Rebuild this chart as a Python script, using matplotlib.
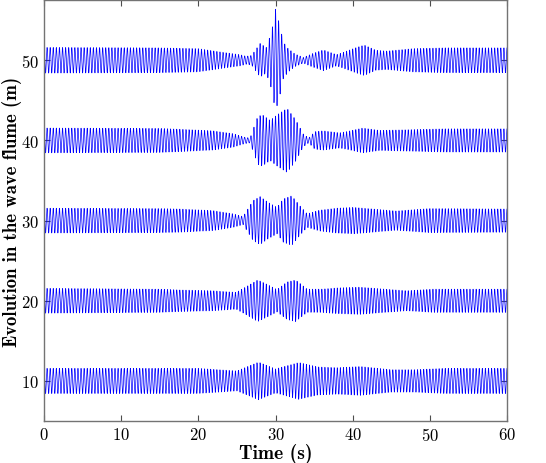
import numpy as np
import matplotlib
matplotlib.use("Agg")
import matplotlib.pyplot as plt

# gauge offsets along the flume (m)
offsets = [50, 40, 30, 20, 10]

# carrier wave period (s) and focus time (s)
period = 0.4
t_focus = 30.0

# envelope knots (time s, half-height m)
env_t_50 = [0, 15, 20, 22.8, 25.4, 26.2, 26.9, 28.0, 28.8, 29.5, 30.0, 30.6, 31.0, 31.6, 32.5,
            33.6, 34.7, 36.2, 37.9, 38.8, 40.5, 41.5, 43.0, 44.4, 47.8, 52.0, 60]
env_a_50 = [1.6, 1.55, 1.45, 1.05, 0.7, 0.5, 0.6, 2.1, 1.6, 3.6, 6.4, 4.2, 2.3, 1.5, 0.8,
            0.35, 0.8, 1.3, 0.7, 1.0, 1.6, 1.9, 1.25, 1.15, 1.45, 1.55, 1.55]

env_t_40 = [0, 15, 17.6, 21.9, 24.5, 26.0, 26.7, 27.7, 28.3, 29.3, 30.2, 31.5, 32.6, 33.6,
            34.3, 35.1, 36.2, 38.3, 39.2, 41.3, 43.5, 47.8, 52.0, 60]
env_a_40 = [1.55, 1.5, 1.4, 1.2, 0.85, 0.4, 0.3, 3.0, 3.2, 2.5, 3.2, 4.0, 2.6, 0.8,
            0.3, 1.1, 1.2, 0.95, 1.1, 1.55, 1.25, 1.35, 1.45, 1.45]

env_t_30 = [0, 15, 17.6, 21.9, 24.5, 25.8, 27.1, 28.0, 29.0, 30.2, 31.0, 32.1, 33.2, 34.1,
            35.7, 37.9, 40.1, 42.6, 45.6, 49.9, 60]
env_a_30 = [1.55, 1.5, 1.45, 1.25, 0.85, 0.5, 2.5, 3.0, 2.3, 1.65, 2.7, 3.1, 1.8, 0.85,
            1.3, 1.55, 1.65, 1.45, 1.2, 1.5, 1.45]

env_t_20 = [0, 15, 17.6, 21.9, 24.9, 26.2, 27.7, 29.0, 30.2, 31.5, 32.6, 34.1, 35.9, 37.9,
            40.9, 43.5, 47.0, 50.4, 60]
env_a_20 = [1.55, 1.45, 1.35, 1.25, 1.05, 1.75, 2.6, 2.0, 1.4, 2.35, 2.6, 1.45, 1.45, 1.6,
            1.7, 1.5, 1.25, 1.45, 1.45]

env_t_10 = [0, 20, 25.0, 27.8, 30.0, 33.0, 35.5, 38.0, 41.0, 45.0, 48.0, 52.0, 60]
env_a_10 = [1.57, 1.57, 1.25, 2.35, 1.5, 2.3, 1.75, 1.65, 1.8, 1.4, 1.4, 1.57, 1.57]

envelopes = [(env_t_50, env_a_50), (env_t_40, env_a_40), (env_t_30, env_a_30),
             (env_t_20, env_a_20), (env_t_10, env_a_10)]

plt.rcParams["font.family"] = "serif"
plt.rcParams["font.serif"] = ["cmr10", "DejaVu Serif"]
plt.rcParams["mathtext.fontset"] = "cm"
plt.rcParams["axes.formatter.use_mathtext"] = True

fig = plt.figure(figsize=(5.46, 4.64), dpi=100)
ax = fig.add_axes([0.0806, 0.0905, 0.848, 0.907])

t = np.linspace(0, 60, 6000)
for off, (et, ea) in zip(offsets, envelopes):
    amp = np.interp(t, et, ea)
    eta = amp * np.cos(2 * np.pi * (t - t_focus) / period)
    ax.plot(t, off + eta, color="#0000ff", lw=0.5)

ax.set_xlim(0, 60)
ax.set_ylim(5, 57.5)
ax.set_xticks(range(0, 61, 10))
ax.set_yticks([10, 20, 30, 40, 50])
ax.tick_params(direction="in", top=True, right=True, labelsize=12, length=4,
               color="0.3", width=0.8)
for sp in ax.spines.values():
    sp.set_color("0.45")
    sp.set_linewidth(1.0)

ax.set_xlabel("Time (s)", fontname="cmb10", fontsize=14, labelpad=0)
ax.set_ylabel("Evolution in the wave flume (m)", fontname="cmb10", fontsize=13.5)
ax.yaxis.set_label_coords(-0.047, 0.5)

fig.savefig("out.png", dpi=100)
